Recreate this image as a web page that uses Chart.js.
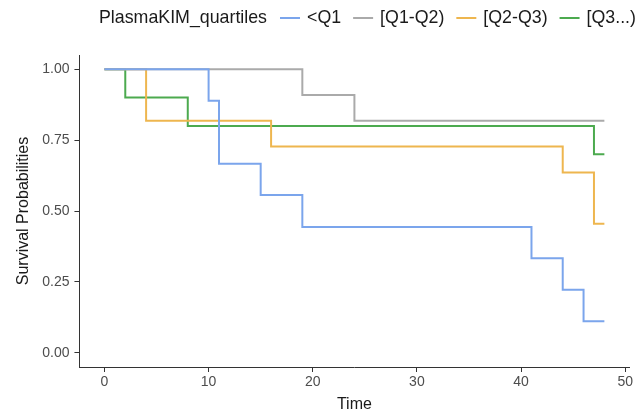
<!DOCTYPE html>
<html>
<head>
<meta charset="utf-8">
<script src="https://cdn.jsdelivr.net/npm/chart.js@4.4.1/dist/chart.umd.min.js"></script>
<style>
  html, body { margin: 0; padding: 0; background: #fff; }
  #wrap { width: 635px; height: 414px; position: relative; }
</style>
</head>
<body>
<div id="wrap"><canvas id="c" width="635" height="414"></canvas></div>
<script>
// ---- data ----
const legendTitle = "PlasmaKIM_quartiles";
const groupNames = ["<Q1", "[Q1-Q2)", "[Q2-Q3)", "[Q3...)"];
const groupColors = ["#7BA5EC", "#AAAAAA", "#EEB64F", "#4CAA4F"];

const timeQ1   = [0, 10, 11, 15, 19, 41, 44, 46, 48];
const survQ1   = [1.000, 0.889, 0.667, 0.556, 0.444, 0.333, 0.222, 0.111, 0.111];

const timeQ1Q2 = [0, 19, 24, 48];
const survQ1Q2 = [1.000, 0.909, 0.818, 0.818];

const timeQ2Q3 = [0, 4, 16, 44, 47, 48];
const survQ2Q3 = [1.000, 0.818, 0.727, 0.636, 0.455, 0.455];

const timeQ3   = [0, 2, 8, 47, 48];
const survQ3   = [1.000, 0.900, 0.800, 0.700, 0.700];

const xTicks = [0, 10, 20, 30, 40, 50];
const yTicks = [0, 0.25, 0.5, 0.75, 1.0];

const allTimes = [timeQ1, timeQ1Q2, timeQ2Q3, timeQ3];
const allSurv  = [survQ1, survQ1Q2, survQ2Q3, survQ3];

function pts(t, s) { return t.map((x, i) => ({ x: x, y: s[i] })); }

const FONT = "'Liberation Sans', Arial, sans-serif";

const legendPlugin = {
  id: 'topLegend',
  afterDraw(chart) {
    const ctx = chart.ctx;
    ctx.save();
    ctx.font = "17.8px " + FONT;
    ctx.textBaseline = 'middle';
    ctx.fillStyle = '#1a1a1a';
    const y = 18;
    let x = 99;
    ctx.fillText(legendTitle, x, y);
    x += ctx.measureText(legendTitle).width + 13;
    chart.data.datasets.forEach(ds => {
      ctx.strokeStyle = ds.borderColor;
      ctx.lineWidth = 2;
      ctx.beginPath();
      ctx.moveTo(x, y);
      ctx.lineTo(x + 20, y);
      ctx.stroke();
      x += 27;
      ctx.fillStyle = '#1a1a1a';
      ctx.fillText(ds.label, x, y);
      x += ctx.measureText(ds.label).width + 12;
    });
    ctx.restore();
  }
};

new Chart(document.getElementById('c'), {
  type: 'line',
  data: {
    datasets: groupNames.map((name, i) => ({
      label: name,
      data: pts(allTimes[i], allSurv[i]),
      borderColor: groupColors[i],
      backgroundColor: groupColors[i],
      borderWidth: 2,
      pointRadius: 0,
      stepped: 'before',
      fill: false
    }))
  },
  options: {
    responsive: false,
    animation: false,
    devicePixelRatio: 1,
    layout: { padding: { top: 55, right: 0, left: 10, bottom: 0 } },
    plugins: {
      legend: { display: false },
      tooltip: { enabled: false }
    },
    scales: {
      x: {
        type: 'linear',
        min: -2.4,
        max: 50.4,
        afterBuildTicks(axis) { axis.ticks = xTicks.map(v => ({ value: v })); },
        ticks: {
          font: { family: FONT, size: 14 },
          color: '#4d4d4d',
          padding: 2,
          maxRotation: 0
        },
        grid: { drawOnChartArea: false, color: '#333333', tickLength: 5, lineWidth: 1 },
        border: { display: true, color: '#333333', width: 1 },
        title: {
          display: true, text: 'Time',
          font: { family: FONT, size: 16 }, color: '#1a1a1a',
          padding: { top: 2, bottom: 0 }
        }
      },
      y: {
        type: 'linear',
        min: -0.05,
        max: 1.05,
        afterBuildTicks(axis) { axis.ticks = yTicks.map(v => ({ value: v })); },
        ticks: {
          font: { family: FONT, size: 14 },
          color: '#4d4d4d',
          padding: 5,
          callback: v => Number(v).toFixed(2)
        },
        grid: { drawOnChartArea: false, color: '#333333', tickLength: 5, lineWidth: 1 },
        border: { display: true, color: '#333333', width: 1 },
        title: {
          display: true, text: 'Survival Probabilities',
          font: { family: FONT, size: 16 }, color: '#1a1a1a',
          padding: { top: 4, bottom: 4 }
        }
      }
    }
  },
  plugins: [legendPlugin]
});
</script>
</body>
</html>
